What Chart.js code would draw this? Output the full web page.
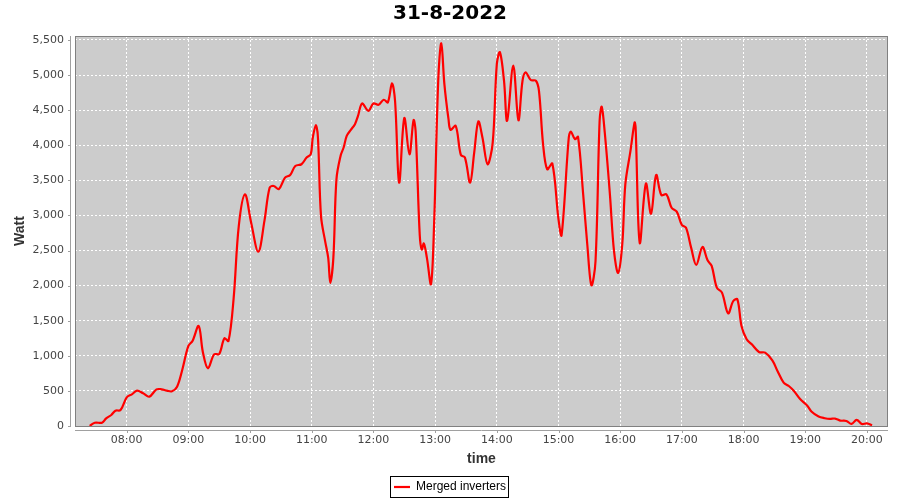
<!DOCTYPE html>
<html>
<head>
<meta charset="utf-8">
<script src="https://cdn.jsdelivr.net/npm/chart.js@4.4.0/dist/chart.umd.min.js"></script>
<style>
  html, body { margin: 0; padding: 0; background: #ffffff; }
  #wrap { width: 900px; height: 500px; }
</style>
</head>
<body>
<div id="wrap"><canvas id="powerChart" width="900" height="500"></canvas></div>
<script>
// readings (time of day, watt)
const times = [
  '07:24','07:29','07:36','07:40','07:45','07:49','07:54','08:00','08:05','08:10',
  '08:16','08:22','08:29','08:34','08:39','08:44','08:49','08:54','09:00','09:04',
  '09:10','09:14','09:19','09:25','09:30','09:35','09:39','09:44','09:49','09:55',
  '10:01','10:08','10:14','10:19','10:23','10:28','10:34','10:39','10:44','10:50',
  '10:55','10:59','11:01','11:04','11:06','11:09','11:13','11:16','11:18','11:21',
  '11:24','11:28','11:31','11:34','11:38','11:42','11:45','11:49','11:55','12:00',
  '12:05','12:10','12:14','12:18','12:21','12:25','12:30','12:35','12:39','12:41',
  '12:45','12:47','12:49','12:52','12:56','12:59','13:03','13:06','13:09','13:13',
  '13:15','13:20','13:25','13:29','13:34','13:38','13:42','13:46','13:51','13:56',
  '14:00','14:03','14:07','14:10','14:16','14:21','14:25','14:28','14:33','14:38',
  '14:41','14:45','14:49','14:54','15:00','15:03','15:10','15:12','15:16','15:19',
  '15:24','15:28','15:32','15:36','15:40','15:42','15:45','15:50','15:54','15:58',
  '16:02','16:05','16:10','16:14','16:15','16:19','16:25','16:30','16:35','16:40',
  '16:45','16:50','16:55','17:00','17:04','17:09','17:14','17:20','17:25','17:29',
  '17:34','17:39','17:45','17:50','17:54','17:58','18:03','18:08','18:15','18:21',
  '18:28','18:33','18:39','18:44','18:49','18:55','19:02','19:06','19:13','19:19',
  '19:24','19:29','19:34','19:40','19:45','19:50','19:55','20:00','20:05'
];
const watts = [
  0, 47, 47, 109, 157, 218, 228, 408, 451, 503,
  465, 418, 522, 522, 503, 494, 560, 798, 1140, 1211,
  1425, 1059, 822, 1021, 1026, 1249, 1211, 1819, 2849, 3300,
  2900, 2483, 2925, 3395, 3419, 3376, 3538, 3576, 3705, 3729,
  3824, 3871, 4110, 4286, 4110, 2990, 2633, 2395, 2038, 2395,
  3514, 3848, 3967, 4133, 4219, 4300, 4419, 4595, 4490, 4595,
  4576, 4648, 4610, 4881, 4633, 3467, 4386, 3871, 4357, 4205,
  2729, 2514, 2600, 2395, 2024, 2881, 4919, 5452, 4871, 4371,
  4219, 4276, 3862, 3824, 3467, 3895, 4338, 4110, 3729, 4038,
  5157, 5324, 4919, 4348, 5133, 4357, 4919, 5038, 4929, 4919,
  4776, 4014, 3657, 3738, 2943, 2719, 4110, 4195, 4086, 4119,
  3300, 2586, 2005, 2348, 4348, 4548, 4181, 3300, 2490, 2181,
  2586, 3443, 3919, 4324, 4252, 2610, 3452, 3024, 3576, 3290,
  3300, 3110, 3054, 2864, 2826, 2541, 2294, 2550, 2360, 2280,
  1971, 1900, 1605, 1781, 1805, 1425, 1235, 1164, 1055, 1045,
  936, 784, 618, 570, 499, 385, 288, 207, 135, 111,
  101, 106, 77, 72, 29, 87, 29, 38, 10
];
const hourLabels = ['08:00','09:00','10:00','11:00','12:00','13:00','14:00',
                    '15:00','16:00','17:00','18:00','19:00','20:00'];
const wattTicks = [0, 500, 1000, 1500, 2000, 2500, 3000, 3500, 4000, 4500, 5000, 5500];

const chartTitle = '31-8-2022';
const seriesName = 'Merged inverters';

// "HH:MM" -> minutes since midnight
function toMin(s) {
    const p = s.split(':');
    return parseInt(p[0], 10) * 60 + parseInt(p[1], 10);
}
function fmtMin(m) {
    const h = Math.floor(m / 60), mm = Math.round(m % 60);
    return String(h).padStart(2, '0') + ':' + String(mm).padStart(2, '0');
}

const points = times.map((t, i) => ({ x: toMin(t), y: watts[i] }));

const legendShift = 3; // legend sits a bit lower than Chart.js puts it

// grey plot background + borders / offset axis lines like the original
const plotFrame = {
    id: 'plotFrame',
    afterLayout(chart) {
        const lg = chart.legend;
        lg.top += legendShift;
        lg.bottom += legendShift;
    },
    beforeDraw(chart) {
        const a = chart.chartArea, c = chart.ctx;
        c.save();
        c.fillStyle = '#cccccc';
        c.fillRect(a.left, a.top, a.right - a.left, a.bottom - a.top);
        c.restore();
    },
    afterDraw(chart) {
        const a = chart.chartArea, c = chart.ctx;
        const xs = chart.scales.x, ys = chart.scales.y;
        c.save();
        c.lineWidth = 1;
        c.strokeStyle = '#808080';
        c.strokeRect(a.left + 0.5, a.top + 0.5, a.right - a.left - 1, a.bottom - a.top);
        // offset axis lines
        c.strokeStyle = '#a0a0a0';
        c.beginPath();
        c.moveTo(a.left - 4.5, a.top);
        c.lineTo(a.left - 4.5, a.bottom + 1);
        c.moveTo(a.left, a.bottom + 4.5);
        c.lineTo(a.right, a.bottom + 4.5);
        ys.ticks.forEach(t => {
            const py = Math.round(ys.getPixelForValue(t.value)) + 0.5;
            c.moveTo(a.left - 7, py);
            c.lineTo(a.left - 4, py);
        });
        xs.ticks.forEach(t => {
            const px = Math.round(xs.getPixelForValue(t.value)) + 0.5;
            c.moveTo(px, a.bottom + 4);
            c.lineTo(px, a.bottom + 7);
        });
        c.stroke();
        // legend frame
        const lg = chart.legend;
        const hb = lg.legendHitBoxes[0];
        if (hb) {
            const top = Math.round(lg.top + lg.options.labels.padding) - 5;
            c.strokeStyle = '#000000';
            c.strokeRect(Math.round(hb.left) - 3.5, top + 0.5,
                         Math.round(hb.width) + 6, 21);
        }
        c.restore();
    }
};

const ctx = document.getElementById('powerChart').getContext('2d');
const powerChart = new Chart(ctx, {
    type: 'line',
    data: {
        datasets: [{
            label: seriesName,
            data: points,
            borderColor: '#ff0000',
            backgroundColor: '#ff0000',
            borderWidth: 2.2,
            pointRadius: 0,
            pointStyle: 'line',
            fill: false,
            tension: 0.35
        }]
    },
    options: {
        responsive: false,
        animation: false,
        layout: { padding: 0 },
        scales: {
            x: {
                type: 'linear',
                min: 429.7,
                max: 1220.5,
                afterBuildTicks: axis => { axis.ticks = hourLabels.map(l => ({ value: toMin(l) })); },
                afterFit: axis => { axis.height = 500 - axis.chart.legend.height - 426; },
                ticks: {
                    padding: 8,
                    color: '#444444',
                    font: { family: 'DejaVu Sans', size: 11 },
                    maxRotation: 0,
                    autoSkip: false,
                    callback: v => fmtMin(v)
                },
                grid: { color: '#ffffff', lineWidth: 1, drawTicks: false },
                border: { display: false, dash: [2, 2] },
                title: {
                    display: true, text: 'time', color: '#333333',
                    font: { family: 'Liberation Sans', size: 14, weight: 'bold' },
                    padding: { top: 0, bottom: 3 }
                }
            },
            y: {
                type: 'linear',
                min: 0,
                max: 5556,
                afterBuildTicks: axis => { axis.ticks = wattTicks.map(v => ({ value: v })); },
                afterFit: axis => { axis.width = 75; },
                ticks: {
                    padding: 11,
                    color: '#444444',
                    font: { family: 'DejaVu Sans', size: 11 },
                    callback: v => v.toLocaleString('en-US')
                },
                grid: { color: '#ffffff', lineWidth: 1, drawTicks: false },
                border: { display: false, dash: [2, 2] },
                title: {
                    display: true, text: 'Watt', color: '#333333',
                    font: { family: 'Liberation Sans', size: 14, weight: 'bold' },
                    padding: { top: 12, bottom: 0 }
                }
            },
            // empty right margin so title and legend stay centred on the page
            spacer: {
                type: 'linear',
                position: 'right',
                afterFit: axis => { axis.width = 12; },
                ticks: { display: false },
                grid: { display: false, drawTicks: false },
                border: { display: false }
            }
        },
        plugins: {
            title: {
                display: true,
                text: chartTitle,
                color: '#000000',
                font: { family: 'DejaVu Sans', size: 20, weight: 'bold' },
                padding: { top: 2, bottom: 10 }
            },
            legend: {
                position: 'bottom',
                labels: {
                    usePointStyle: true,
                    pointStyleWidth: 16,
                    color: '#000000',
                    font: { family: 'Liberation Sans', size: 12 },
                    padding: 7
                }
            },
            tooltip: { enabled: false }
        }
    },
    plugins: [plotFrame]
});
</script>
</body>
</html>
